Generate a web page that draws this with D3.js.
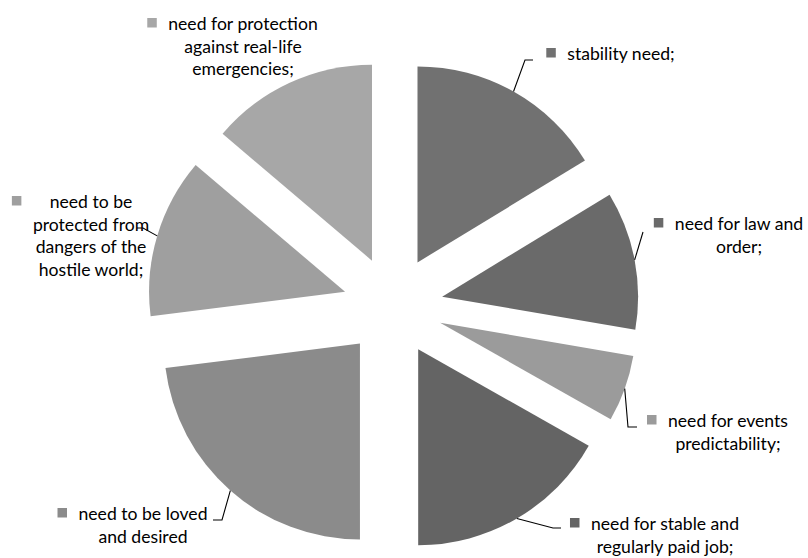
<!DOCTYPE html>
<html>
<head>
<meta charset="utf-8">
<script src="https://cdn.jsdelivr.net/npm/d3@7"></script>
<style>
  html, body { margin: 0; padding: 0; background: #fff; }
  svg { display: block; }
  text { font-family: Lato, "Open Sans", sans-serif; fill: #000; }
</style>
</head>
<body>
<svg id="chart" width="808" height="558"></svg>
<script>
// Safety needs: share of each need (percent)
const categories = [
  "stability need;",
  "need for law and order;",
  "need for events predictability;",
  "need for stable and regularly paid job;",
  "need to be loved and desired",
  "need to be protected from dangers of the hostile world;",
  "need for protection against real-life emergencies;"
];
const values = [16.3, 11.4, 5.5, 16.8, 23.0, 13.2, 13.8];

// How each label wraps onto lines
const labelLines = [
  ["stability need;"],
  ["need for law and", "order;"],
  ["need for events", "predictability;"],
  ["need for stable and", "regularly paid job;"],
  ["need to be loved", "and desired"],
  ["need to be", "protected from", "dangers of the", "hostile world;"],
  ["need for protection", "against real-life", "emergencies;"]
];

// Grey fill for each slice
const colors = ["#717171", "#6a6a6a", "#9b9b9b", "#646464", "#8b8b8b", "#9f9f9f", "#a7a7a7"];

// Label placement: block centre x, first baseline y, leader bend points
const labelLayout = [
  { cx: 621, y: 60,  leader: [[525, 60], [533, 60]] },
  { cx: 739, y: 230, leader: [[643, 232]] },
  { cx: 728, y: 427, leader: [[628, 427], [637, 427]] },
  { cx: 665, y: 530, leader: [[553, 528], [561, 528]] },
  { cx: 143, y: 520, leader: [[222, 520], [213, 520]] },
  { cx: 91,  y: 208, leader: [[143, 228], [137, 228]] },
  { cx: 243, y: 30,  leader: null }
];

const cx = 393, cy = 306;
const radius = 196;
const explode = 50;
const fontSize = 17.6;
const lineHeight = 22.6;

const svg = d3.select("#chart");

const pie = d3.pie().sort(null).value(d => d.value);
const arcs = pie(values.map((v, i) => ({ value: v, i })));
const arc = d3.arc().innerRadius(0).outerRadius(radius);

const g = svg.append("g").attr("transform", `translate(${cx},${cy})`);

function offset(d, r) {
  const a = (d.startAngle + d.endAngle) / 2;
  return [Math.sin(a) * r, -Math.cos(a) * r];
}

// Exploded slices
g.selectAll("path.slice")
  .data(arcs)
  .join("path")
  .attr("class", "slice")
  .attr("d", arc)
  .attr("fill", d => colors[d.index])
  .attr("transform", d => {
    const [dx, dy] = offset(d, explode);
    return `translate(${dx},${dy})`;
  });

// Leader lines from each slice's outer edge to its label
const line = d3.line();
arcs.forEach(d => {
  const lay = labelLayout[d.index];
  if (!lay.leader) return;
  const [ex, ey] = offset(d, explode);
  const [ox, oy] = offset(d, radius);
  const start = [cx + ex + ox, cy + ey + oy];
  svg.append("path")
    .attr("d", line([start, ...lay.leader]))
    .attr("fill", "none")
    .attr("stroke", "#000")
    .attr("stroke-width", 1.1);
});

// Labels with legend keys
arcs.forEach(d => {
  const lay = labelLayout[d.index];
  const lines = labelLines[d.index];
  const t = svg.append("g");
  const texts = t.selectAll("text")
    .data(lines)
    .join("text")
    .attr("x", lay.cx)
    .attr("y", (s, k) => lay.y + k * lineHeight)
    .attr("text-anchor", "middle")
    .attr("font-size", fontSize)
    .text(s => s);
  const maxW = d3.max(texts.nodes(), n => n.getComputedTextLength());
  t.append("rect")
    .attr("x", lay.cx - maxW / 2 - 21)
    .attr("y", lay.y - 12)
    .attr("width", 9.5)
    .attr("height", 9.5)
    .attr("fill", colors[d.index]);
});
</script>
</body>
</html>
